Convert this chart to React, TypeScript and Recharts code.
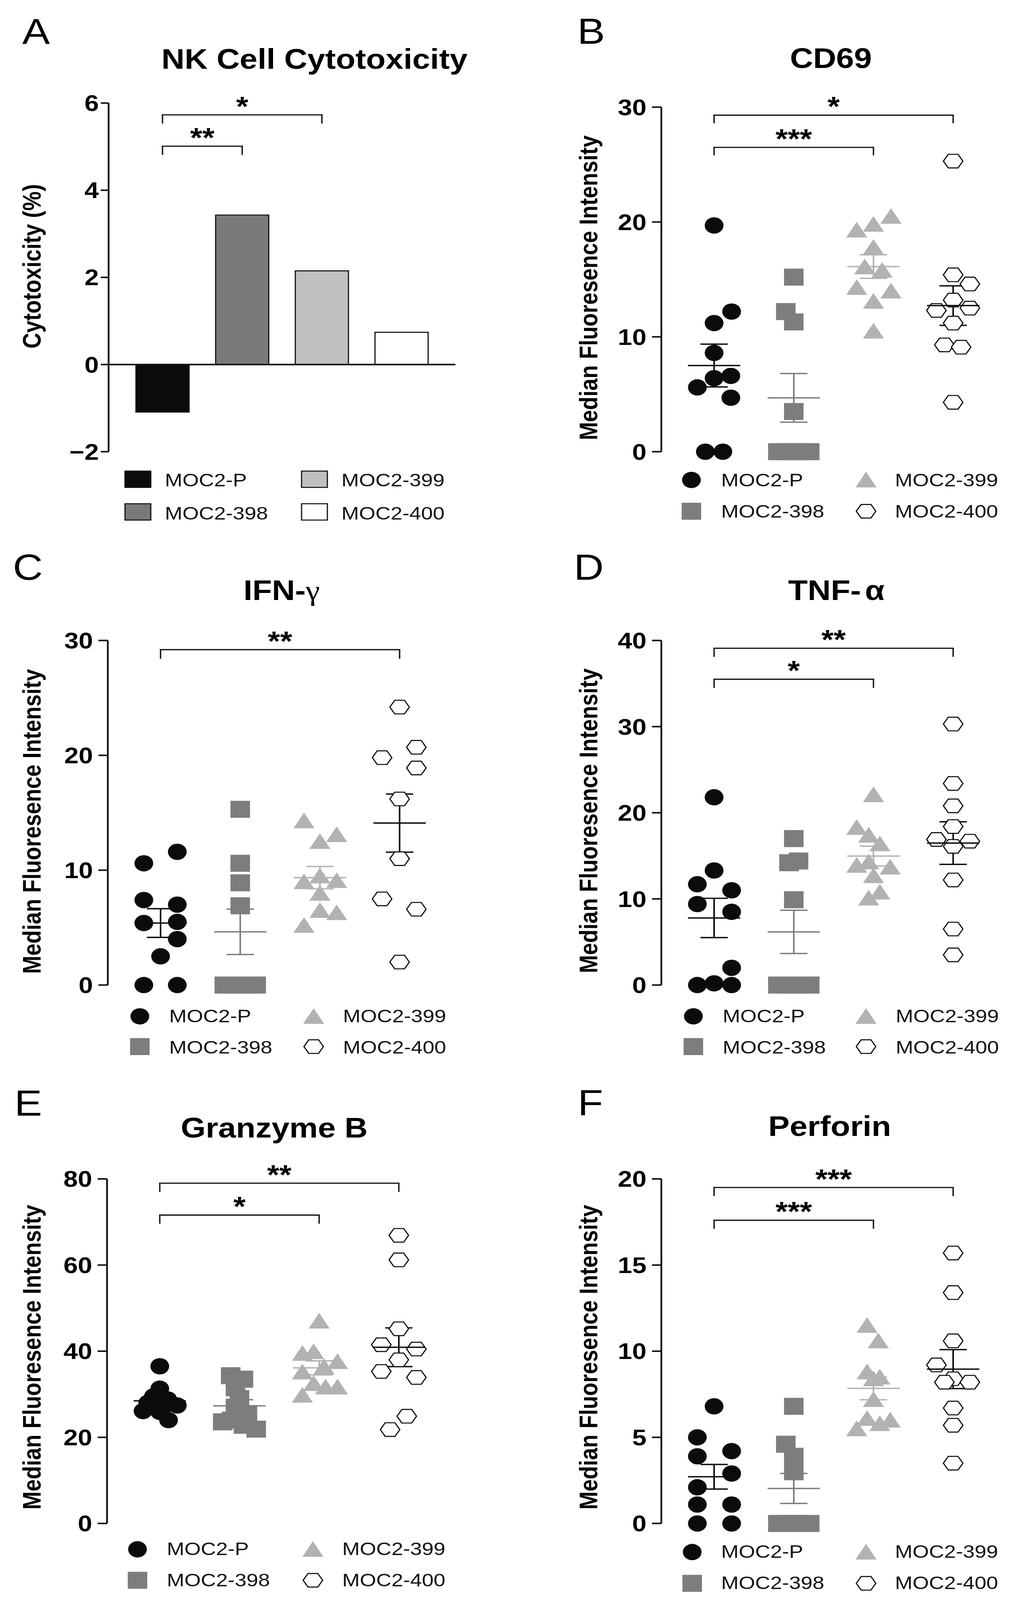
import React from "react";
import { ScatterChart, Scatter, XAxis, YAxis, ErrorBar, ReferenceLine, BarChart, Bar, Cell } from "recharts";

const FONT = '"Liberation Sans", Arial, Helvetica, sans-serif';

const groups = ["MOC2-P", "MOC2-398", "MOC2-399", "MOC2-400"];

// A: NK cell cytotoxicity (%)
const cytoValues = [-1.09, 3.43, 2.15, 0.74];
const cytoTicks = [-2, 0, 2, 4, 6];

// B: CD69
const cd69P = [19.7, 12.2, 11.2, 8.6, 6.6, 6.4, 5.6, 4.7, 0, 0];
const cd69PDx = [0, 0.22, 0, 0, 0.21, 0, -0.21, 0.21, -0.11, 0.11];
const cd69_398 = [15.2, 12.2, 11.3, 3.5, 0, 0, 0, 0, 0];
const cd69_398Dx = [0, -0.1, 0, 0, -0.2, -0.1, 0, 0.1, 0.2];
const cd69_399 = [20.5, 19.8, 19.3, 17.8, 16.1, 15.8, 14.3, 14.0, 13.1, 10.5];
const cd69_399Dx = [0.22, 0, -0.21, 0, -0.11, 0.11, -0.21, 0.22, 0, 0];
const cd69_400 = [25.3, 15.4, 14.6, 13.2, 12.3, 12.5, 11.2, 9.3, 9.1, 4.3];
const cd69_400Dx = [0, 0, 0.21, 0, -0.21, 0.21, 0, -0.11, 0.1, 0];

// C: IFN-gamma
const ifnP = [10.6, 11.6, 7.4, 7.0, 5.4, 5.5, 4.0, 2.5, 0, 0];
const ifnPDx = [-0.21, 0.21, -0.21, 0.21, -0.21, 0.21, 0.21, 0, -0.21, 0.21];
const ifn398 = [15.3, 10.6, 8.9, 6.9, 0, 0, 0, 0, 0];
const ifn398Dx = [0, 0, 0, 0, -0.2, -0.1, 0, 0.1, 0.2];
const ifn399 = [14.3, 12.5, 13.1, 9.0, 9.5, 9.1, 8.0, 6.5, 6.3, 5.2];
const ifn399Dx = [-0.2, 0, 0.21, -0.2, 0, 0.21, 0, 0, 0.21, -0.2];
const ifn400 = [24.2, 20.7, 19.8, 18.9, 16.2, 11.0, 7.5, 6.6, 2.0];
const ifn400Dx = [0, 0.21, -0.22, 0.21, 0, 0, -0.22, 0.21, 0];

// D: TNF-alpha
const tnfP = [21.8, 13.3, 11.7, 11.0, 9.4, 8.5, 2.0, 0, 0.2, 0];
const tnfPDx = [0, 0, -0.21, 0.22, -0.21, 0.22, 0.22, -0.21, 0, 0.22];
const tnf398 = [17.0, 14.2, 14.4, 9.9, 0, 0, 0, 0, 0];
const tnf398Dx = [0, -0.06, 0.06, 0, -0.2, -0.1, 0, 0.1, 0.2];
const tnf399 = [22.1, 18.3, 17.4, 16.4, 13.9, 14.3, 13.7, 12.7, 10.1, 10.8];
const tnf399Dx = [0, -0.21, -0.06, 0.08, -0.21, -0.06, 0.21, 0, -0.06, 0.08];
const tnf400 = [30.3, 23.4, 20.8, 18.4, 16.9, 16.7, 16.1, 12.2, 6.5, 3.5];
const tnf400Dx = [0, 0, 0, 0, -0.21, 0.21, 0, 0, 0, 0];

// E: Granzyme B
const gzmP = [36.5, 31.3, 29.5, 28.8, 28.0, 27.4, 27.2, 26.1, 25.9, 24.0];
const gzmPDx = [0, 0, -0.08, 0.1, -0.15, 0.22, 0.05, -0.21, 0, 0.11];
const gzm398 = [34.3, 33.5, 31.5, 29.0, 27.0, 25.5, 24.0, 23.6, 22.8, 21.9];
const gzm398Dx = [-0.11, 0.05, -0.05, 0, -0.05, 0.1, -0.1, -0.21, 0.05, 0.21];
const gzm399 = [47.0, 39.5, 39.9, 37.6, 36.4, 35.2, 32.5, 31.7, 31.7, 29.8];
const gzm399Dx = [0, -0.21, -0.07, 0.23, 0.06, -0.21, -0.07, 0.08, 0.23, -0.21];
const gzm400 = [66.9, 61.2, 45.2, 41.5, 40.5, 38.0, 35.3, 33.9, 24.9, 21.8];
const gzm400Dx = [0, 0, 0, -0.22, 0.22, 0, -0.22, 0.22, 0.1, -0.11];

// F: Perforin
const prfP = [6.8, 5.0, 3.9, 4.2, 2.9, 2.1, 1.1, 1.1, 0, 0];
const prfPDx = [0, -0.21, -0.21, 0.22, 0.22, -0.21, -0.21, 0.22, -0.21, 0.22];
const prf398 = [6.8, 4.6, 3.9, 3.0, 0, 0, 0, 0, 0];
const prf398Dx = [0, -0.1, 0, 0, -0.2, -0.1, 0, 0.1, 0.2];
const prf399 = [11.5, 10.6, 8.8, 8.5, 8.4, 7.2, 6.1, 6.0, 5.8, 5.5];
const prf399Dx = [-0.08, 0.06, -0.08, 0.08, 0, 0, -0.08, 0.21, 0.08, -0.21];
const prf400 = [15.7, 13.4, 10.6, 9.2, 8.4, 8.2, 8.2, 6.7, 5.7, 3.5];
const prf400Dx = [0, 0, 0, -0.21, 0, -0.11, 0.21, 0, 0, 0];

type Bracket = { from: number; to: number; y: number; y2: number; label: string };

const cytoBrackets: Bracket[] = [
  { from: 0, to: 2, y: 5.73, y2: 5.53, label: "*" },
  { from: 0, to: 1, y: 5.01, y2: 4.81, label: "**" },
];
const cd69Brackets: Bracket[] = [
  { from: 0, to: 3, y: 29.3, y2: 28.6, label: "*" },
  { from: 0, to: 2, y: 26.5, y2: 25.8, label: "***" },
];
const ifnBrackets: Bracket[] = [{ from: 0, to: 3, y: 29.2, y2: 28.4, label: "**" }];
const tnfBrackets: Bracket[] = [
  { from: 0, to: 3, y: 39.1, y2: 38.1, label: "**" },
  { from: 0, to: 2, y: 35.5, y2: 34.5, label: "*" },
];
const gzmBrackets: Bracket[] = [
  { from: 0, to: 3, y: 79.0, y2: 77.0, label: "**" },
  { from: 0, to: 2, y: 71.6, y2: 69.6, label: "*" },
];
const prfBrackets: Bracket[] = [
  { from: 0, to: 3, y: 19.5, y2: 19.0, label: "***" },
  { from: 0, to: 2, y: 17.6, y2: 17.1, label: "***" },
];

const mean = (a: number[]) => a.reduce((s, v) => s + v, 0) / a.length;
const sem = (a: number[]) => {
  const m = mean(a);
  return Math.sqrt(a.reduce((s, v) => s + (v - m) ** 2, 0) / (a.length - 1) / a.length);
};

const INK = "#0a0c0c";
const DARK = "#7d7d7d";
const LIGHT = "#b2b2b2";
const lineColors = [INK, DARK, LIGHT, INK];

const circleShape = (p: any) => <circle cx={p.cx} cy={p.cy} r={24} fill={INK} />;
const squareShape = (p: any) => <rect x={p.cx - 25} y={p.cy - 25} width={50} height={50} fill={DARK} />;
const triangleShape = (p: any) => (
  <polygon points={`${p.cx},${p.cy - 24} ${p.cx - 27},${p.cy + 22} ${p.cx + 27},${p.cy + 22}`} fill={LIGHT} />
);
const hexShape = (p: any) => (
  <polygon
    points={`${p.cx - 25},${p.cy} ${p.cx - 12.5},${p.cy - 20} ${p.cx + 12.5},${p.cy - 20} ${p.cx + 25},${p.cy} ${p.cx + 12.5},${p.cy + 20} ${p.cx - 12.5},${p.cy + 20}`}
    fill="#fff"
    stroke={INK}
    strokeWidth={3}
  />
);
const shapes = [circleShape, squareShape, triangleShape, hexShape];

const meanShape = (color: string) => (p: any) => (
  <line x1={p.cx - 67} x2={p.cx + 67} y1={p.cy} y2={p.cy} stroke={color} strokeWidth={4} />
);

const AX = { stroke: "#111", strokeWidth: 4.5 };
const TICK = { fontSize: 66, fontWeight: 700, fill: "#000" };

const starLabel = (text: string) => (props: any) => {
  const vb = props.viewBox || { x: 0, y: 0, width: 0 };
  return (
    <text x={vb.x + vb.width / 2} y={vb.y + 3} textAnchor="middle" fontSize={80} fontWeight={700} fill="#000">
      {text}
    </text>
  );
};

function bracketLines(brackets: Bracket[], xs: (i: number) => any) {
  const st = { stroke: "#111", strokeWidth: 3.5 };
  return brackets.flatMap((b, k) => [
    <ReferenceLine key={`h${k}`} segment={[{ x: xs(b.from), y: b.y }, { x: xs(b.to), y: b.y }]} {...st} strokeLinecap="square" label={starLabel(b.label)} />,
    <ReferenceLine key={`l${k}`} segment={[{ x: xs(b.from), y: b.y }, { x: xs(b.from), y: b.y2 }]} {...st} />,
    <ReferenceLine key={`r${k}`} segment={[{ x: xs(b.to), y: b.y }, { x: xs(b.to), y: b.y2 }]} {...st} />,
  ]);
}

type PanelProps = {
  axisX: number;
  top: number;
  bottom: number;
  yMax: number;
  ticks: number[];
  values: number[][];
  offsets: number[][];
  brackets: Bracket[];
};

function ScatterPanel({ axisX, top, bottom, yMax, ticks, values, offsets, brackets }: PanelProps) {
  const yw = 300, mt = 160, mb = 80, mr = 40, plotW = 882;
  const pts = values.map((vals, g) => vals.map((v, i) => ({ x: g + offsets[g][i], y: v })));
  const summary = values.map((vals, g) => [{ x: g, y: mean(vals), err: sem(vals) }]);
  return (
    <div style={{ position: "absolute", left: axisX - yw, top: top - mt }}>
      <ScatterChart width={yw + plotW + mr} height={mt + bottom - top + mb} margin={{ top: mt, right: mr, bottom: mb, left: 0 }}>
        <XAxis type="number" dataKey="x" domain={[-0.662, 3.662]} tick={false} tickLine={false} axisLine={AX} height={0} />
        <YAxis type="number" dataKey="y" domain={[0, yMax]} ticks={ticks} interval={0} width={yw} tickSize={24} tickMargin={14} axisLine={AX} tickLine={AX} tick={TICK} />
        {pts.map((d, g) => (
          <Scatter key={`p${g}`} data={d} shape={shapes[g]} isAnimationActive={false} />
        ))}
        {summary.map((d, g) => (
          <Scatter key={`m${g}`} data={d} shape={meanShape(lineColors[g])} isAnimationActive={false}>
            <ErrorBar dataKey="err" direction="y" width={35} stroke={lineColors[g]} strokeWidth={4} />
          </Scatter>
        ))}
        {bracketLines(brackets, (i) => i)}
      </ScatterChart>
    </div>
  );
}

function CytoPanel() {
  const axisX = 278, top = 303, bottom = 1328;
  const yw = 300, mt = 160, mb = 80, mr = 40, plotW = 888;
  const data = groups.map((name, i) => ({ name, value: cytoValues[i] }));
  const fills = [INK, "#7a7a7a", "#c0c0c0", "#ffffff"];
  return (
    <div style={{ position: "absolute", left: axisX - yw, top: top - mt }}>
      <BarChart width={yw + plotW + mr} height={mt + bottom - top + mb} data={data} margin={{ top: mt, right: mr, bottom: mb, left: 0 }}>
        <XAxis dataKey="name" type="category" tick={false} tickLine={false} axisLine={AX} height={0} padding={{ left: 36, right: 36 }} />
        <YAxis domain={[-2, 6]} ticks={cytoTicks} interval={0} width={yw} tickSize={20} tickMargin={5} axisLine={AX} tickLine={AX} tick={TICK}
          tickFormatter={(v: number) => (v < 0 ? `\u2212${Math.abs(v)}` : `${v}`)} />
        <ReferenceLine y={0} stroke="#111" strokeWidth={4.5} />
        <Bar dataKey="value" barSize={136} isAnimationActive={false} stroke="#111" strokeWidth={3}>
          {data.map((d, i) => (
            <Cell key={d.name} fill={fills[i]} />
          ))}
        </Bar>
        {bracketLines(cytoBrackets, (i) => groups[i])}
      </BarChart>
    </div>
  );
}

type LegendProps = { kind: "bar" | "dot"; mx: [number, number]; tx: [number, number]; my: [number, number]; ty: [number, number] };

function LegendBlock({ kind, mx, tx, my, ty }: LegendProps) {
  // row 1: P, 399 ; row 2: 398, 400
  const order = [
    { g: 0, c: 0, r: 0 },
    { g: 2, c: 1, r: 0 },
    { g: 1, c: 0, r: 1 },
    { g: 3, c: 1, r: 1 },
  ];
  const barFills = [INK, "#7a7a7a", "#c0c0c0", "#ffffff"];
  return (
    <g>
      {order.map(({ g, c, r }) => (
        <g key={g}>
          {kind === "bar" ? (
            <rect x={mx[c] - 33} y={my[r] - 24} width={66} height={48} fill={barFills[g]} stroke="#111" strokeWidth={3} />
          ) : (
            shapes[g]({ cx: mx[c], cy: my[r] })
          )}
          <text x={tx[c]} y={ty[r]} fontSize={54} fill="#111">
            {groups[g]}
          </text>
        </g>
      ))}
    </g>
  );
}

function Annotations() {
  const yLabel = (x: number, y: number, t: string) => (
    <text transform={`translate(${x},${y}) rotate(-90)`} textAnchor="middle" fontSize={64} fontWeight={700} fill="#000">
      {t}
    </text>
  );
  const title = (x: number, y: number, t: React.ReactNode) => (
    <text x={x} y={y} textAnchor="middle" fontSize={82} fontWeight={700} fill="#000">
      {t}
    </text>
  );
  const letter = (x: number, y: number, t: string) => (
    <text x={x} y={y} fontSize={106} fill="#000">
      {t}
    </text>
  );
  const mfi = "Median Fluoresence Intensity";
  return (
    <svg width={2606} height={4704} style={{ position: "absolute", left: 0, top: 0, pointerEvents: "none" }}>
      {letter(57, 130, "A")}
      {letter(1478, 129, "B")}
      {letter(33, 1704, "C")}
      {letter(1469, 1704, "D")}
      {letter(37, 3280, "E")}
      {letter(1479, 3279, "F")}

      {title(805, 202, "NK Cell Cytotoxicity")}
      {title(2127, 200, "CD69")}
      {title(721, 1764, <>IFN-<tspan fontWeight={400} fontFamily='"Liberation Serif", serif'>γ</tspan></>)}
      {title(2141, 1764, <>TNF-<tspan dx={10}>α</tspan></>)}
      {title(702, 3344, "Granzyme B")}
      {title(2124, 3340, "Perforin")}

      {yLabel(104, 783, "Cytotoxicity (%)")}
      {yLabel(1529, 846, mfi)}
      {yLabel(104, 2415, mfi)}
      {yLabel(1529, 2413, mfi)}
      {yLabel(104, 3990, mfi)}
      {yLabel(1529, 3990, mfi)}

      <LegendBlock kind="bar" mx={[353, 805]} tx={[422, 874]} my={[1409, 1505]} ty={[1430, 1527]} />
      <LegendBlock kind="dot" mx={[1770, 2217]} tx={[1846, 2291]} my={[1411, 1503]} ty={[1430, 1522]} />
      <LegendBlock kind="dot" mx={[358, 803]} tx={[433, 878]} my={[2988, 3077]} ty={[3005, 3097]} />
      <LegendBlock kind="dot" mx={[1775, 2217]} tx={[1850, 2293]} my={[2988, 3077]} ty={[3005, 3097]} />
      <LegendBlock kind="dot" mx={[352, 801]} tx={[427, 876]} my={[4555, 4646]} ty={[4572, 4664]} />
      <LegendBlock kind="dot" mx={[1772, 2217]} tx={[1846, 2291]} my={[4563, 4655]} ty={[4580, 4672]} />
    </svg>
  );
}

const PAGE_W = 2606;
const PAGE_H = 4704;

export default function App() {
  // fit the figure into the visible viewport height if the window is shorter than the figure
  const vh = typeof window !== "undefined" && window.innerHeight > 0 ? window.innerHeight : PAGE_H;
  const k = Math.min(1, vh / PAGE_H);
  return (
    <div style={{ position: "absolute", left: 0, top: 0, width: PAGE_W, height: Math.floor(PAGE_H * k), overflow: "hidden", background: "#fff" }}>
      <div style={{ position: "relative", width: PAGE_W, height: PAGE_H, transform: `scaleY(${k})`, transformOrigin: "0 0", fontFamily: FONT }}>
        <CytoPanel />
        <ScatterPanel axisX={1693} top={315} bottom={1328} yMax={30} ticks={[0, 10, 20, 30]}
          values={[cd69P, cd69_398, cd69_399, cd69_400]} offsets={[cd69PDx, cd69_398Dx, cd69_399Dx, cd69_400Dx]} brackets={cd69Brackets} />
        <ScatterPanel axisX={276} top={1883} bottom={2896} yMax={30} ticks={[0, 10, 20, 30]}
          values={[ifnP, ifn398, ifn399, ifn400]} offsets={[ifnPDx, ifn398Dx, ifn399Dx, ifn400Dx]} brackets={ifnBrackets} />
        <ScatterPanel axisX={1693} top={1883} bottom={2896} yMax={40} ticks={[0, 10, 20, 30, 40]}
          values={[tnfP, tnf398, tnf399, tnf400]} offsets={[tnfPDx, tnf398Dx, tnf399Dx, tnf400Dx]} brackets={tnfBrackets} />
        <ScatterPanel axisX={274} top={3466} bottom={4479} yMax={80} ticks={[0, 20, 40, 60, 80]}
          values={[gzmP, gzm398, gzm399, gzm400]} offsets={[gzmPDx, gzm398Dx, gzm399Dx, gzm400Dx]} brackets={gzmBrackets} />
        <ScatterPanel axisX={1693} top={3466} bottom={4479} yMax={20} ticks={[0, 5, 10, 15, 20]}
          values={[prfP, prf398, prf399, prf400]} offsets={[prfPDx, prf398Dx, prf399Dx, prf400Dx]} brackets={prfBrackets} />
        <Annotations />
      </div>
    </div>
  );
}
